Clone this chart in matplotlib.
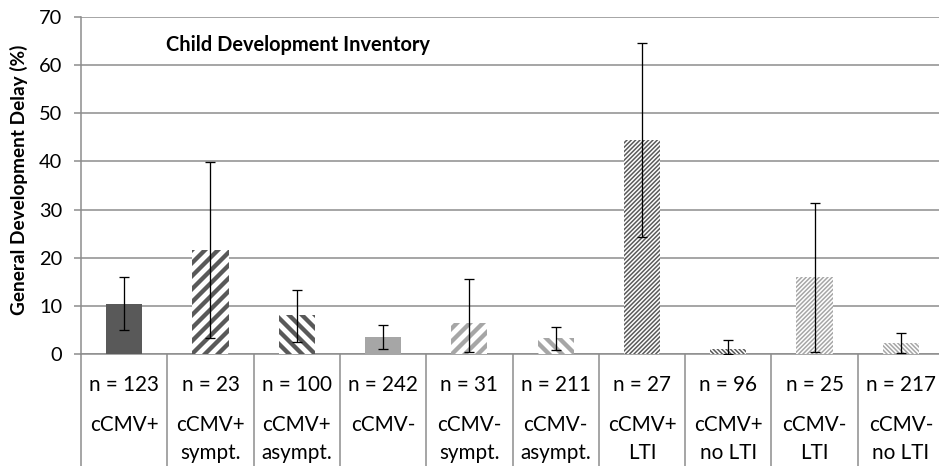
import matplotlib
matplotlib.use("Agg")
import matplotlib.pyplot as plt
import numpy as np

# Study groups and their general development delay (Child Development Inventory)
sample_sizes = ["n = 123", "n = 23", "n = 100", "n = 242", "n = 31",
                "n = 211", "n = 27", "n = 96", "n = 25", "n = 217"]
group_line1 = ["cCMV+", "cCMV+", "cCMV+", "cCMV-", "cCMV-",
               "cCMV-", "cCMV+", "cCMV+", "cCMV-", "cCMV-"]
group_line2 = ["", "sympt.", "asympt.", "", "sympt.",
               "asympt.", "LTI", "no LTI", "LTI", "no LTI"]
delay_pct = [10.4, 21.7, 8.0, 3.5, 6.5, 3.3, 44.4, 1.1, 16.0, 2.3]
ci_low = [5.0, 3.4, 2.5, 1.1, 0.5, 0.8, 24.4, 0.1, 0.5, 0.3]
ci_high = [16.0, 39.9, 13.3, 6.1, 15.5, 5.7, 64.5, 2.9, 31.4, 4.3]
y_ticks = [0, 10, 20, 30, 40, 50, 60, 70]

DARK = "#595959"
LIGHT = "#a6a6a6"
GRID = "#8c8c8c"
WIDE_NE, WIDE_NW = "//", "\\\\"
FINE_NE, FINE_NW = "//////", "\\\\\\\\\\\\"
# (colour, hatch, hatch line width in points)
bar_styles = [
    (DARK, None, 0), (DARK, WIDE_NE, 4.0), (DARK, WIDE_NW, 4.0),
    (LIGHT, None, 0), (LIGHT, WIDE_NE, 4.0), (LIGHT, WIDE_NW, 4.0),
    (DARK, FINE_NE, 1.4), (DARK, FINE_NW, 1.4),
    (LIGHT, FINE_NE, 1.4), (LIGHT, FINE_NW, 1.4),
]

DPI = 78
W, H = 939, 466
plt.rcParams["font.family"] = ["Lato", "DejaVu Sans"]
plt.rcParams["hatch.linewidth"] = 1.4

fig = plt.figure(figsize=(W / DPI, H / DPI), dpi=DPI)
ax_left, ax_right, ax_top, ax_bottom = 81, 944, 17, 354
ax_w = ax_right - ax_left
ax_h = ax_bottom - ax_top
ax = fig.add_axes([ax_left / W, 1 - ax_bottom / H, ax_w / W, ax_h / H])

x = np.arange(len(delay_pct))
bars = ax.bar(x, delay_pct, width=0.42, zorder=3)
for patch, (col, hatch, hlw) in zip(bars, bar_styles):
    if hatch is None:
        patch.set_facecolor(col)
        patch.set_edgecolor(col)
        patch.set_linewidth(0)
    else:
        patch.set_facecolor("white")
        patch.set_edgecolor(col)
        patch.set_hatch(hatch)
        patch.set_linewidth(0)
        if hasattr(patch, "set_hatch_linewidth"):
            patch.set_hatch_linewidth(hlw)

vals = np.array(delay_pct)
yerr = [vals - np.array(ci_low), np.array(ci_high) - vals]
ax.errorbar(x, vals, yerr=yerr, fmt="none", ecolor="black",
            elinewidth=1.2, capsize=4.3, capthick=1.2, zorder=4)

ax.set_xlim(-0.5, len(delay_pct) - 0.5)
ax.set_ylim(0, 70)
ax.set_yticks(y_ticks)
ax.yaxis.grid(True, color=GRID, linewidth=1.4, zorder=0)
ax.set_axisbelow(True)
ax.tick_params(axis="y", length=6.5, width=1.4, color=GRID,
               labelsize=18.5, labelcolor="black", pad=11)
ax.set_xticks([])
for side in ("top", "right"):
    ax.spines[side].set_visible(False)
for side in ("left", "bottom"):
    ax.spines[side].set_color(GRID)
    ax.spines[side].set_linewidth(1.4)

ax.set_ylabel("General Development Delay (%)", fontsize=17.5,
              fontweight="bold")
ax.yaxis.set_label_coords((28 - ax_left) / ax_w, (ax_bottom - 180) / ax_h)

ax.text((166 - ax_left) / ax_w, (ax_bottom - 45) / ax_h,
        "Child Development Inventory", transform=ax.transAxes,
        fontsize=18.5, fontweight="bold", va="center", ha="left")

# Category table below the axis
tr = ax.get_xaxis_transform()
bottom_y = -(H - ax_bottom) / ax_h
for b in np.arange(-0.5, len(delay_pct), 1.0):
    ax.plot([b, b], [0, bottom_y], transform=tr, color=GRID,
            linewidth=1.4, clip_on=False, solid_capstyle="butt")

row_n = -(385 - ax_bottom) / ax_h
row_1 = -(425 - ax_bottom) / ax_h
row_2 = -(453 - ax_bottom) / ax_h
for xi, n_lbl, l1, l2 in zip(x, sample_sizes, group_line1, group_line2):
    ax.text(xi, row_n, n_lbl, transform=tr, ha="center", va="center",
            fontsize=19, clip_on=False)
    ax.text(xi, row_1, l1, transform=tr, ha="center", va="center",
            fontsize=19, clip_on=False)
    if l2:
        ax.text(xi, row_2, l2, transform=tr, ha="center", va="center",
                fontsize=19, clip_on=False)

fig.savefig("out.png", dpi=DPI)
